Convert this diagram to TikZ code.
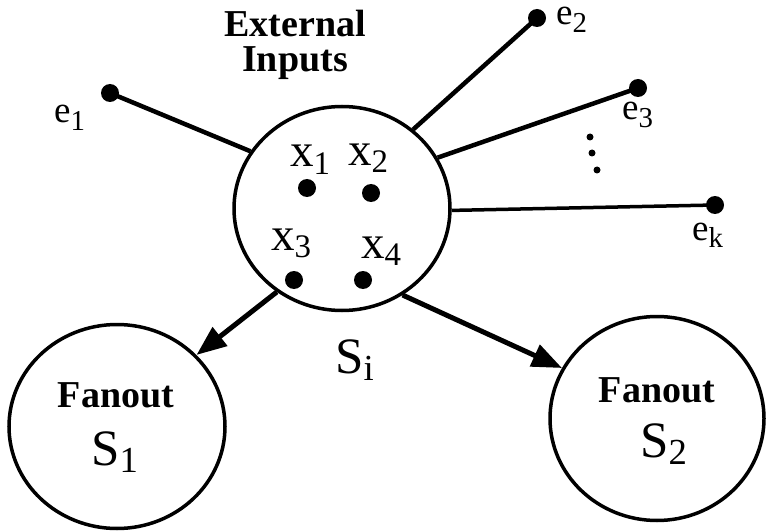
\documentclass[tikz,border=0pt]{standalone}
\usepackage{fontspec}
\setmainfont{Liberation Serif}
\usetikzlibrary{shapes.geometric,arrows.meta}
\newcommand\lblsub[4]{#1\raisebox{-#3}{\scalebox{#4}{#2}}}
\begin{document}
\begin{tikzpicture}[x=1pt,y=-1pt,
  big/.style={draw,ellipse,line width=3.5pt,inner sep=0pt},
  dotnode/.style={circle,fill,inner sep=0pt,minimum size=18pt},
  smalldot/.style={circle,fill,inner sep=0pt,minimum size=7pt},
  wire/.style={line width=4.5pt},
  arr/.style={line width=5pt,-{Triangle[length=30pt,width=23pt]}},
  boldlbl/.style={font=\bfseries\fontsize{38}{40}\selectfont,inner sep=0pt},
  xlbl/.style={font=\fontsize{47}{50}\selectfont,inner sep=0pt,anchor=base west},
  elbl/.style={font=\fontsize{37}{40}\selectfont,inner sep=0pt,anchor=base west,text height=0.5em,text depth=0.25em},
  slbl/.style={font=\fontsize{51}{54}\selectfont,inner sep=0pt,anchor=base west}]
\useasboundingbox (0,0) rectangle (766,532);

% circles
\node[big,minimum width=216pt,minimum height=204pt] (Si) at (342,208.5) {};
\node[big,minimum width=216pt,minimum height=204pt] (S1) at (117,426.5) {};
\node[big,minimum width=214pt,minimum height=204pt] (S2) at (657,418.5) {};

% external input dots
\node[dotnode] (e1) at (110,93) {};
\node[dotnode] (e2) at (537,18) {};
\node[dotnode] (e3) at (638,88) {};
\node[dotnode] (ek) at (715,205) {};

\draw[wire] (e1.center) -- (Si.148.7);
\draw[wire] (e2.center) -- (Si.48);
\draw[wire] (e3.center) -- (Si.28.4);
\draw[line width=3.5pt] (ek.center) -- (Si.-1);

% vertical ellipsis
\node[smalldot] (d1) at (590,137) {};
\node[smalldot] (d2) at (592,153) {};
\node[smalldot] (d3) at (597,170) {};

% state dots
\node[dotnode] (x1) at (307,188) {};
\node[dotnode] (x2) at (371,193) {};
\node[dotnode] (x3) at (294,280) {};
\node[dotnode] (x4) at (363,280) {};

% arrows
\draw[arr] (Si.232.3) -- (S1.42);
\draw[arr] (Si.-55.9) -- (S2.152);

% labels
\node[boldlbl,anchor=base] (ext) at (295,37) {External};
\node[boldlbl,anchor=base] (inp) at (295,72) {Inputs};

\node[xlbl] (lx1) at (290,167) {\lblsub{x}{1}{0.15em}{0.7}};
\node[xlbl] (lx2) at (348,165) {\lblsub{x}{2}{0.15em}{0.7}};
\node[xlbl] (lx3) at (271,250) {\lblsub{x}{3}{0.17em}{0.7}};
\node[xlbl] (lx4) at (361,258) {\lblsub{x}{4}{0.17em}{0.7}};

\node[elbl] (le1) at (54,123) {\lblsub{e}{1}{0.2em}{0.78}};
\node[elbl] (le2) at (556,25) {\lblsub{e}{2}{0.2em}{0.78}};
\node[elbl] (le3) at (622,120) {\lblsub{e}{3}{0.2em}{0.78}};
\node[elbl] (lek) at (692,240) {\lblsub{e}{k}{0.2em}{0.78}};

\node[slbl] (lSi) at (335,373) {\lblsub{S}{i}{0.15em}{0.72}};
\node[boldlbl,anchor=base] (f1) at (116,407) {Fanout};
\node[slbl] (lS1) at (91,465) {\lblsub{S}{1}{0.15em}{0.72}};
\node[boldlbl,anchor=base] (f2) at (657,402) {Fanout};
\node[slbl] (lS2) at (640,457) {\lblsub{S}{2}{0.15em}{0.72}};
\end{tikzpicture}
\end{document}
